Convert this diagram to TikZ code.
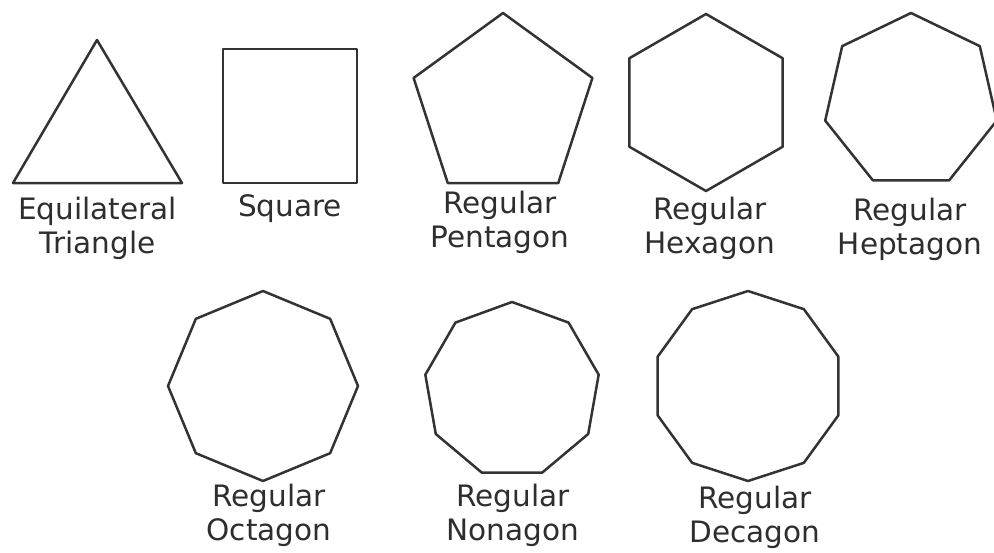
\documentclass[tikz,border=0pt]{standalone}
\usepackage{fontspec}
\setmainfont{DejaVu Sans}
\usetikzlibrary{calc}
\begin{document}
\begin{tikzpicture}[x=1pt,y=-1pt,
  shapeline/.style={draw=black!80,line width=2.5pt,line join=round},
  lbl/.style={anchor=base,align=center,inner sep=0pt,text=black!82,font=\fontsize{29.5}{34}\selectfont}]
\useasboundingbox (0,0) rectangle (994,552);
\clip (0,0) rectangle (994,552);
\fill[white] (0,0) rectangle (994,552);
% polygons
\draw[shapeline] (97,40) -- (182,183) -- (13,183) -- cycle;
\draw[shapeline] (223,49) rectangle (357,183);
\foreach \cx/\cy/\r/\n in {503/107/94/5, 706/102.5/88.5/6, 911/101/88/7, 263/386/95/8, 512/390/88/9, 748/386/95/10}{
  \draw[shapeline] ($(\cx,\cy)+(270:\r)$)
    \foreach \i in {1,...,\n}{ -- ($(\cx,\cy)+(270+\i*360/\n:\r)$) } -- cycle;
}
% labels (anchor base = baseline of last line)
\node[lbl] (ltri) at (97.5,253) {Equilateral\\Triangle};
\node[lbl] (lsq) at (290,216) {Square};
\node[lbl] (lpen) at (500,247) {Regular\\Pentagon};
\node[lbl] (lhex) at (710,253) {Regular\\Hexagon};
\node[lbl] (lhep) at (910,254) {Regular\\Heptagon};
\node[lbl] (loct) at (269,540) {Regular\\Octagon};
\node[lbl] (lnon) at (513,540) {Regular\\Nonagon};
\node[lbl] (ldec) at (755,542) {Regular\\Decagon};
\end{tikzpicture}
\end{document}
